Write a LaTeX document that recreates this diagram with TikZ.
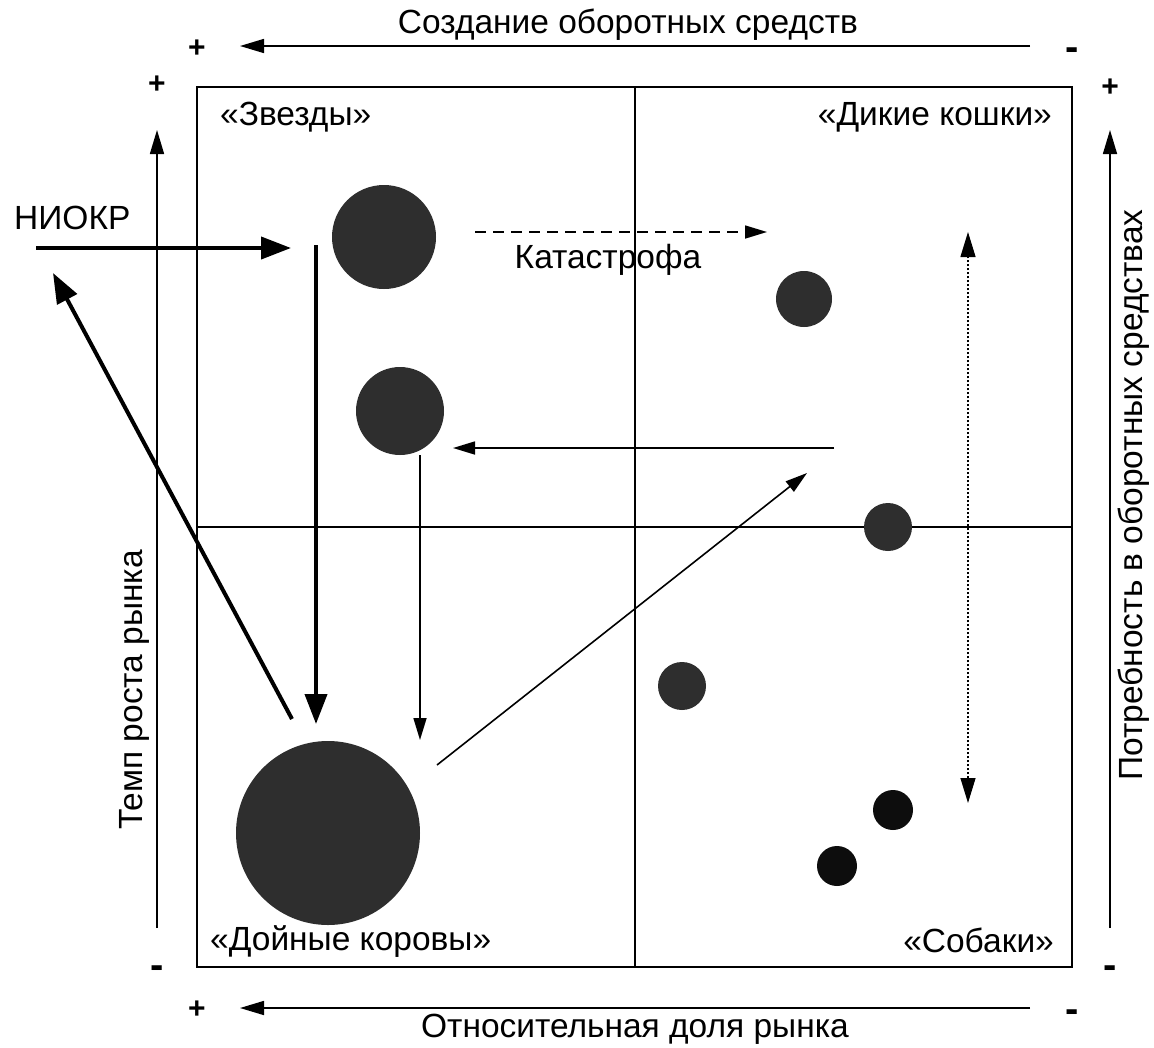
\documentclass[tikz,border=0pt]{standalone}
\usepackage{fontspec}
\setmainfont{Liberation Sans}
\usetikzlibrary{arrows.meta}
\begin{document}
\begin{tikzpicture}[x=1pt,y=-1pt,
  lbl/.style={inner sep=0pt,font=\fontsize{33.5}{36}\selectfont},
  sign/.style={inner sep=0pt,font=\fontsize{30}{32}\selectfont\bfseries},
  minus/.style={inner sep=0pt,font=\fontsize{40}{42}\selectfont\bfseries},
  ball/.style={circle,inner sep=0pt,fill=black!82,draw=none},
  blackball/.style={circle,inner sep=0pt,fill=black!95,draw=none},
  axisarrow/.style={line width=1.6pt,-{Triangle[length=24pt,width=14pt]}},
  thickarrow/.style={line width=4pt,-{Triangle[length=30pt,width=22pt]}},
  thinarrow/.style={line width=1.6pt,-{Triangle[length=22pt,width=13pt]}},
  frameline/.style={line width=2pt},
  divline/.style={line width=1.4pt}]
\useasboundingbox (0,0) rectangle (1154,1047);
\fill[white] (0,0) rectangle (1154,1047);

% frame and dividers
\draw[frameline] (197,87) rectangle (1072,967);
\coordinate (vt) at (635,87); \coordinate (vb) at (635,967);
\coordinate (hl) at (197,527); \coordinate (hr) at (1072,527);
\draw[divline] (vt) -- (vb);
\draw[divline] (hl) -- (hr);

% axes
\coordinate (topR) at (1030,46); \coordinate (topL) at (240,46);
\draw[axisarrow] (topR) -- (topL);
\node[lbl] (toptext) at (628,25) {Создание оборотных средств};
\node[sign] (tplus) at (197,49) {+};
\node[minus] (tminus) at (1072,54) {-};

\coordinate (botR) at (1030,1008); \coordinate (botL) at (240,1008);
\draw[axisarrow] (botR) -- (botL);
\node[lbl] (bottext) at (635,1029) {Относительная доля рынка};
\node[sign] (bplus) at (197,1010) {+};
\node[minus] (bminus) at (1072,1016) {-};

\coordinate (leftB) at (157,928); \coordinate (leftT) at (157,130);
\draw[axisarrow] (leftB) -- (leftT);
\node[lbl,rotate=90] (lefttext) at (134,690) {Темп роста рынка};
\node[sign] (lplus) at (157,85) {+};
\node[minus] (lminus) at (157,972) {-};

\coordinate (rightB) at (1110,928); \coordinate (rightT) at (1110,130);
\draw[axisarrow] (rightB) -- (rightT);
\node[lbl,rotate=90] (righttext) at (1134,495) {Потребность в оборотных средствах};
\node[sign] (rplus) at (1110,88) {+};
\node[minus] (rminus) at (1110,972) {-};

% quadrant labels
\node[lbl,anchor=west] (stars) at (220,117) {«Звезды»};
\node[lbl,anchor=east] (cats) at (1052,117) {«Дикие кошки»};
\node[lbl,anchor=west] (cows) at (210,942) {«Дойные коровы»};
\node[lbl,anchor=east] (dogs) at (1054,940) {«Собаки»};

% circles
\node[ball,minimum size=104pt] (s1) at (384,237) {};
\node[ball,minimum size=88pt] (s2) at (400,411) {};
\node[ball,minimum size=56pt] (c1) at (804,299) {};
\node[ball,minimum size=48pt] (c2) at (888,527) {};
\node[ball,minimum size=48pt] (d1) at (682,686) {};
\node[blackball,minimum size=40pt] (d2) at (893,810) {};
\node[blackball,minimum size=40pt] (d3) at (837,866) {};
\node[ball,minimum size=184pt] (cow) at (328,833) {};

% НИОКР
\node[lbl,anchor=west] (niokr) at (14,218) {НИОКР};
\coordinate (nS) at (36,248); \coordinate (nE) at (291,248);
\draw[thickarrow] (nS) -- (nE);

% thick down arrow
\coordinate (dS) at (316,245); \coordinate (dE) at (316,724);
\draw[thickarrow] (dS) -- (dE);

% thick diagonal to НИОКР
\coordinate (gS) at (292,719); \coordinate (gE) at (53,273);
\draw[thickarrow] (gS) -- (gE);

% thin down arrow
\coordinate (tS) at (420,455); \coordinate (tE) at (420,740);
\draw[thinarrow] (tS) -- (tE);

% thin left arrow
\coordinate (hS) at (834,448); \coordinate (hE) at (453,448);
\draw[thinarrow] (hS) -- (hE);

% thin diagonal
\coordinate (aS) at (437,765); \coordinate (aE) at (807,473);
\draw[thinarrow] (aS) -- (aE);

% dashed catastrophe arrow
\coordinate (kS) at (475,232); \coordinate (kE) at (767,232);
\draw[line width=1.6pt,dash pattern=on 11pt off 7pt,-{Triangle[length=22pt,width=13pt]}] (kS) -- (kE);
\node[lbl] (kat) at (608,260) {Катастрофа};

% dotted double arrow
\coordinate (pT) at (968,232); \coordinate (pB) at (968,803);
\draw[line width=1.2pt,dash pattern=on 2pt off 2pt,{Triangle[length=25pt,width=15pt]}-{Triangle[length=25pt,width=15pt]}] (pB) -- (pT);
\end{tikzpicture}
\end{document}
